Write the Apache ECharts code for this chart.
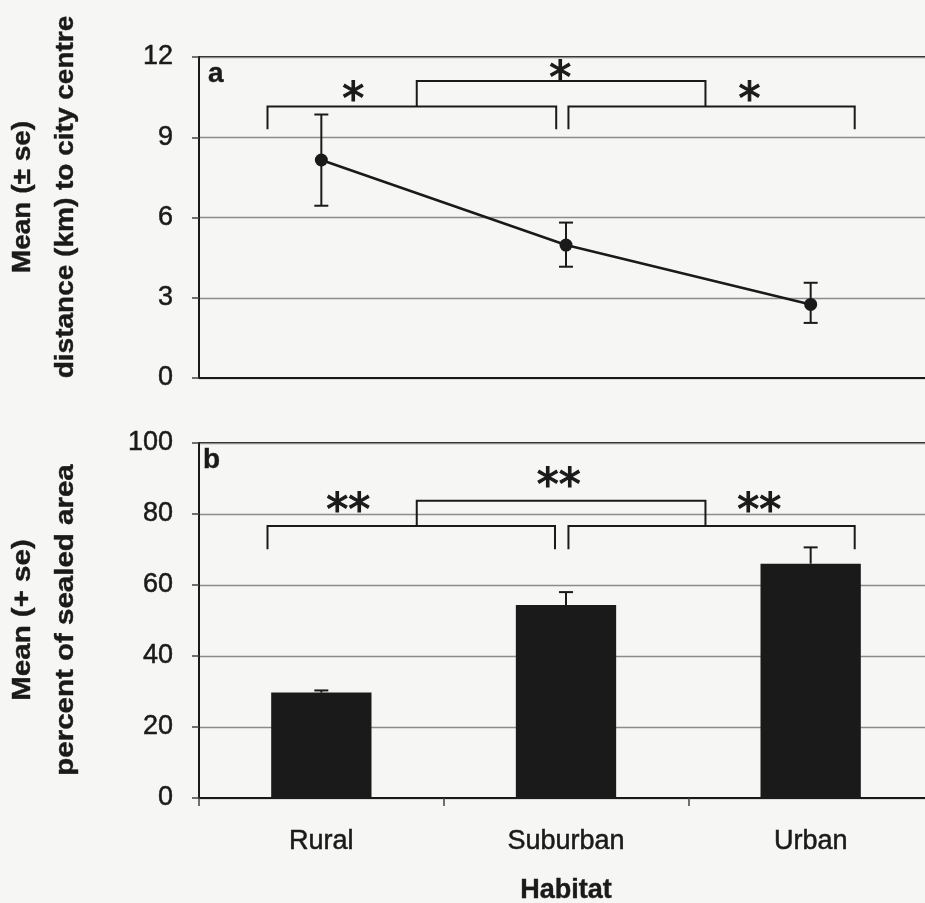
<!DOCTYPE html>
<html>
<head>
<meta charset="utf-8">
<script src="https://cdn.jsdelivr.net/npm/echarts@6/dist/echarts.min.js"></script>
<style>html,body{margin:0;padding:0;background:#f6f6f4;}#c{width:925px;height:903px;}</style>
</head>
<body>
<div id="c"></div>
<script>
// ---- data ----
const categories = ['Rural', 'Suburban', 'Urban'];
// panel a: distance to city centre (km), mean with se bounds
const distMean = [8.15, 4.97, 2.75];
const distLow = [6.44, 4.16, 2.06];
const distHigh = [9.85, 5.81, 3.56];
// panel b: percent of sealed area, mean and mean + se
const sealedMean = [29.7, 54.4, 66.0];
const sealedHigh = [30.3, 58.0, 70.6];
// axis ticks
const distAxis = [0, 12, 3];
const sealedAxis = [0, 100, 20];
// significance brackets: [from position, to position, bar value, leg value] (positions in category units)
const bracketFromA = [-0.22, 1.01, 0.39];
const bracketToA = [0.96, 2.18, 1.57];
const bracketBarA = [10.15, 10.15, 11.1];
const bracketLegA = [9.3, 9.3, 10.15];
const bracketFromB = [-0.22, 1.01, 0.39];
const bracketToB = [0.955, 2.18, 1.57];
const bracketBarB = [76.6, 76.6, 83.7];
const bracketLegB = [70.1, 70.1, 76.6];
// significance stars
const starPosA = [0.13, 0.976, 1.75];
const starValA = [10.7, 11.46, 10.7];
const starTextA = ['*', '*', '*'];
const starPosB = [0.11, 0.97, 1.79];
const starValB = [83.1, 90.1, 83.1];
const starTextB = ['**', '**', '**'];

const INK = '#1a1a1a';
const FONT = '"Liberation Sans", Arial, sans-serif';
const STARFONT = '"DejaVu Sans", sans-serif';

function errItem(capLow) {
  return function (params, api) {
    const pLo = api.coord([api.value(0), api.value(1)]);
    const pHi = api.coord([api.value(0), api.value(2)]);
    const w = 7;
    const st = { stroke: INK, lineWidth: 2 };
    const ch = [
      { type: 'line', shape: { x1: pLo[0], y1: pLo[1], x2: pHi[0], y2: pHi[1] }, style: st },
      { type: 'line', shape: { x1: pHi[0] - w, y1: pHi[1], x2: pHi[0] + w, y2: pHi[1] }, style: st }
    ];
    if (capLow) ch.push({ type: 'line', shape: { x1: pLo[0] - w, y1: pLo[1], x2: pLo[0] + w, y2: pLo[1] }, style: st });
    return { type: 'group', children: ch };
  };
}
function bracketItem(params, api) {
  const band = api.size([1, 0])[0];
  const x0 = api.coord([0, 0])[0];
  const xa = x0 + api.value(2) * band;
  const xb = x0 + api.value(3) * band;
  const yh = api.coord([0, api.value(1)])[1];
  const yl = api.coord([0, api.value(4)])[1];
  return {
    type: 'polyline',
    shape: { points: [[xa, yl], [xa, yh], [xb, yh], [xb, yl]] },
    style: { stroke: INK, lineWidth: 2, fill: null }
  };
}
function starItem(texts) {
  return function (params, api) {
    const band = api.size([1, 0])[0];
    const base = api.coord([0, api.value(1)]);
    const fs = 44;
    return {
      type: 'text',
      x: base[0] + api.value(2) * band,
      y: base[1] + 0.24 * fs,
      style: {
        text: texts[params.dataIndex], font: 'normal ' + fs + 'px ' + STARFONT,
        stroke: INK, lineWidth: 1.2,
        textAlign: 'center', textVerticalAlign: 'middle', align: 'center', verticalAlign: 'middle', fill: INK
      }
    };
  };
}

const labelStyle = { fontSize: 27, fontFamily: FONT, color: INK, textBorderColor: INK, textBorderWidth: 0.5 };
const yAxisCommon = {
  type: 'value',
  axisLine: { show: true, lineStyle: { color: INK, width: 2 } },
  axisTick: { show: true, length: 7, lineStyle: { color: '#444', width: 1.5 } },
  axisLabel: Object.assign({ margin: 26 }, labelStyle),
  splitLine: { show: true, lineStyle: { color: '#8c8c8c', width: 1.3 } }
};
const gridCommon = { show: true, borderColor: INK, borderWidth: 2, backgroundColor: 'transparent', outerBoundsMode: 'none', containLabel: false };

const chart = echarts.init(document.getElementById('c'), null, { renderer: 'canvas' });
chart.setOption({
  backgroundColor: '#f6f6f4',
  animation: false,
  grid: [
    Object.assign({ left: 199, top: 57, width: 734, height: 321 }, gridCommon),
    Object.assign({ left: 199, top: 443, width: 734, height: 355 }, gridCommon)
  ],
  xAxis: [
    { type: 'category', gridIndex: 0, data: categories,
      axisLine: { lineStyle: { color: INK, width: 2 } }, axisTick: { show: false }, axisLabel: { show: false } },
    { type: 'category', gridIndex: 1, data: categories,
      axisLine: { lineStyle: { color: INK, width: 2 } },
      axisTick: { show: true, length: 8, lineStyle: { color: '#444', width: 1.5 } },
      axisLabel: Object.assign({ margin: 30 }, labelStyle),
      name: 'Habitat', nameLocation: 'middle', nameGap: 79,
      nameTextStyle: { fontSize: 27, fontWeight: 'bold', fontFamily: FONT, color: INK, textBorderColor: INK, textBorderWidth: 0.4 } }
  ],
  yAxis: [
    Object.assign({}, yAxisCommon, { gridIndex: 0, min: distAxis[0], max: distAxis[1], interval: distAxis[2] }),
    Object.assign({}, yAxisCommon, { gridIndex: 1, min: sealedAxis[0], max: sealedAxis[1], interval: sealedAxis[2] })
  ],
  graphic: [
    { type: 'text', x: 208, y: 74, style: { text: 'a', font: 'bold 28px ' + FONT, fill: INK, stroke: INK, lineWidth: 0.4, textVerticalAlign: 'middle', verticalAlign: 'middle' } },
    { type: 'text', x: 203, y: 460, style: { text: 'b', font: 'bold 28px ' + FONT, fill: INK, stroke: INK, lineWidth: 0.4, textVerticalAlign: 'middle', verticalAlign: 'middle' } },
    { type: 'text', x: 45, y: 197, rotation: Math.PI / 2, scaleX: 1.12,
      style: { text: 'Mean (± se)\ndistance (km) to city centre', font: 'bold 25px ' + FONT, lineHeight: 43, fill: INK,
        stroke: INK, lineWidth: 0.4,
        textAlign: 'center', textVerticalAlign: 'middle', align: 'center', verticalAlign: 'middle' } },
    { type: 'text', x: 45, y: 620, rotation: Math.PI / 2, scaleX: 1.18,
      style: { text: 'Mean (+ se)\npercent of sealed area', font: 'bold 25px ' + FONT, lineHeight: 43, fill: INK,
        stroke: INK, lineWidth: 0.4,
        textAlign: 'center', textVerticalAlign: 'middle', align: 'center', verticalAlign: 'middle' } }
  ],
  series: [
    { type: 'custom', xAxisIndex: 0, yAxisIndex: 0, renderItem: errItem(true), z: 3,
      data: categories.map((c, i) => [i, distLow[i], distHigh[i]]) },
    { type: 'line', xAxisIndex: 0, yAxisIndex: 0, data: distMean, symbol: 'circle', symbolSize: 13,
      itemStyle: { color: INK }, lineStyle: { color: INK, width: 2.5 }, z: 4 },
    { type: 'custom', xAxisIndex: 0, yAxisIndex: 0, renderItem: bracketItem, z: 3,
      data: bracketFromA.map((f, i) => [0, bracketBarA[i], f, bracketToA[i], bracketLegA[i]]) },
    { type: 'custom', xAxisIndex: 0, yAxisIndex: 0, renderItem: starItem(starTextA), z: 3,
      data: starPosA.map((p, i) => [0, starValA[i], p]) },
    { type: 'bar', xAxisIndex: 1, yAxisIndex: 1, data: sealedMean, barWidth: '41%',
      itemStyle: { color: INK }, z: 2 },
    { type: 'custom', xAxisIndex: 1, yAxisIndex: 1, renderItem: errItem(false), z: 3,
      data: categories.map((c, i) => [i, sealedMean[i], sealedHigh[i]]) },
    { type: 'custom', xAxisIndex: 1, yAxisIndex: 1, renderItem: bracketItem, z: 3,
      data: bracketFromB.map((f, i) => [0, bracketBarB[i], f, bracketToB[i], bracketLegB[i]]) },
    { type: 'custom', xAxisIndex: 1, yAxisIndex: 1, renderItem: starItem(starTextB), z: 3,
      data: starPosB.map((p, i) => [0, starValB[i], p]) }
  ]
});
</script>
</body>
</html>
